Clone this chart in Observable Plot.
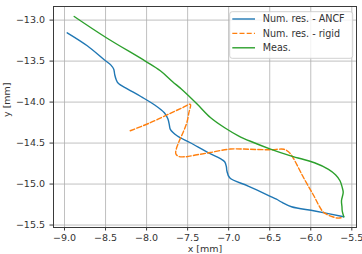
<!DOCTYPE html>
<html>
<head>
<meta charset="utf-8">
<script src="https://cdn.jsdelivr.net/npm/d3@7"></script>
<script src="https://cdn.jsdelivr.net/npm/@observablehq/plot@0.6"></script>
<style>
  html, body { margin: 0; padding: 0; background: #fff; }
  #chart { width: 362px; height: 254px; overflow: hidden; }
</style>
</head>
<body>
<div id="chart"></div>
<script>
// Tool tip trajectory: numerical results (ANCF, rigid) and measurement, in mm
const ancfX = [-8.967, -8.723, -8.516, -8.434, -8.400, -8.388, -8.370, -8.345, -8.235, -8.065,
  -7.906, -7.784, -7.741, -7.723, -7.711, -7.629, -7.467, -7.251, -7.101, -7.049,
  -7.028, -7.022, -6.988, -6.763, -6.500, -6.418, -6.349, -6.235, -5.951, -5.598];
const ancfY = [-13.155, -13.313, -13.484, -13.549, -13.600, -13.667, -13.728, -13.771, -13.838, -13.935,
  -14.033, -14.130, -14.204, -14.277, -14.332, -14.411, -14.496, -14.618, -14.691, -14.728,
  -14.789, -14.838, -14.923, -15.024, -15.146, -15.185, -15.224, -15.277, -15.329, -15.399];

const rigidX = [-8.199, -7.955, -7.711, -7.565, -7.467, -7.485, -7.510, -7.552, -7.601, -7.638,
  -7.644, -7.613, -7.528, -7.385, -7.223, -6.979, -6.735, -6.491, -6.327, -6.272,
  -6.223, -6.089, -5.963, -5.861, -5.809, -5.735, -5.674, -5.605];
const rigidY = [-14.350, -14.252, -14.137, -14.070, -14.027, -14.130, -14.252, -14.362, -14.472, -14.570,
  -14.630, -14.661, -14.667, -14.643, -14.615, -14.573, -14.576, -14.582, -14.576, -14.606,
  -14.667, -14.920, -15.143, -15.326, -15.368, -15.399, -15.415, -15.407];

const measX = [-8.882, -8.495, -8.016, -7.833, -7.683, -7.577, -7.385, -7.223, -7.049, -6.882,
  -6.735, -6.491, -6.235, -5.955, -5.784, -5.699, -5.644, -5.617, -5.605, -5.626,
  -5.620, -5.617, -5.598];
const measY = [-12.956, -13.212, -13.500, -13.618, -13.752, -13.841, -14.024, -14.188, -14.313, -14.411,
  -14.478, -14.573, -14.659, -14.740, -14.820, -14.887, -14.960, -15.041, -15.102, -15.204,
  -15.277, -15.326, -15.399];

const xTicks = [-9.0, -8.5, -8.0, -7.5, -7.0, -6.5, -6.0, -5.5];
const yTicks = [-13.0, -13.5, -14.0, -14.5, -15.0, -15.5];

const seriesNames = ["Num. res. - ANCF", "Num. res. - rigid", "Meas."];
const seriesColors = ["#1f77b4", "#ff7f0e", "#2ca02c"];

const toRows = (xs, ys) => xs.map((x, i) => ({x, y: ys[i]}));
const ancf = toRows(ancfX, ancfY);
const rigid = toRows(rigidX, rigidY);
const meas = toRows(measX, measY);

const fmt = d3.format(".1f");
const font = "'DejaVu Sans', sans-serif";
const axisColor = "#3a3a3a";
const textColor = "#333";

const chart = Plot.plot({
  width: 362,
  height: 254,
  marginLeft: 53,
  marginRight: 6,
  marginTop: 6,
  marginBottom: 27,
  style: {fontFamily: font, fontSize: "9.5px", color: textColor, background: "#fff"},
  x: {domain: [-9.134, -5.443]},
  y: {domain: [-15.53, -12.834]},
  marks: [
    Plot.gridX(xTicks, {stroke: "#b0b0b0", strokeOpacity: 1, strokeWidth: 0.8}),
    Plot.gridY(yTicks, {stroke: "#b0b0b0", strokeOpacity: 1, strokeWidth: 0.8}),
    Plot.line(ancf, {x: "x", y: "y", stroke: seriesColors[0], strokeWidth: 1.4, curve: "catmull-rom"}),
    Plot.line(rigid, {x: "x", y: "y", stroke: seriesColors[1], strokeWidth: 1.4, strokeDasharray: "5,2.2", curve: "catmull-rom"}),
    Plot.line(meas, {x: "x", y: "y", stroke: seriesColors[2], strokeWidth: 1.4, curve: "catmull-rom"}),
    Plot.frame({stroke: axisColor, strokeWidth: 1}),
    Plot.axisX(xTicks, {tickFormat: fmt, tickSize: 3.5, tickPadding: 3.5, stroke: axisColor, fill: textColor, label: null}),
    Plot.axisY(yTicks, {tickFormat: fmt, tickSize: 3.5, tickPadding: 5, stroke: axisColor, fill: textColor, label: null}),
    Plot.text(["x [mm]"], {frameAnchor: "bottom", lineAnchor: "top", dy: 17.5, fill: textColor, fontSize: 9.5}),
    Plot.text(["y [mm]"], {frameAnchor: "left", rotate: -90, dx: -47, fill: textColor, fontSize: 9.5})
  ]
});

// Legend box in the upper right corner of the frame
const svg = d3.select(chart);
const lg = svg.append("g").attr("transform", "translate(229.7,11.7)")
  .attr("text-anchor", "start")
  .style("font-family", font).style("font-size", "9.6px");
lg.append("rect").attr("width", 123).attr("height", 46.6).attr("rx", 2.5)
  .attr("fill", "#fff").attr("fill-opacity", 0.8).attr("stroke", "#cccccc").attr("stroke-width", 0.9);
seriesNames.forEach((name, i) => {
  const yy = 7.3 + i * 14.4;
  lg.append("line").attr("x1", 2.6).attr("x2", 25.3).attr("y1", yy).attr("y2", yy)
    .attr("stroke", seriesColors[i]).attr("stroke-width", 1.4)
    .attr("stroke-dasharray", i === 1 ? "5,2.2" : null);
  lg.append("text").attr("x", 33).attr("y", yy).attr("dy", "0.35em")
    .attr("text-anchor", "start").attr("fill", textColor).text(name);
});

document.getElementById("chart").appendChild(chart);
</script>
</body>
</html>
